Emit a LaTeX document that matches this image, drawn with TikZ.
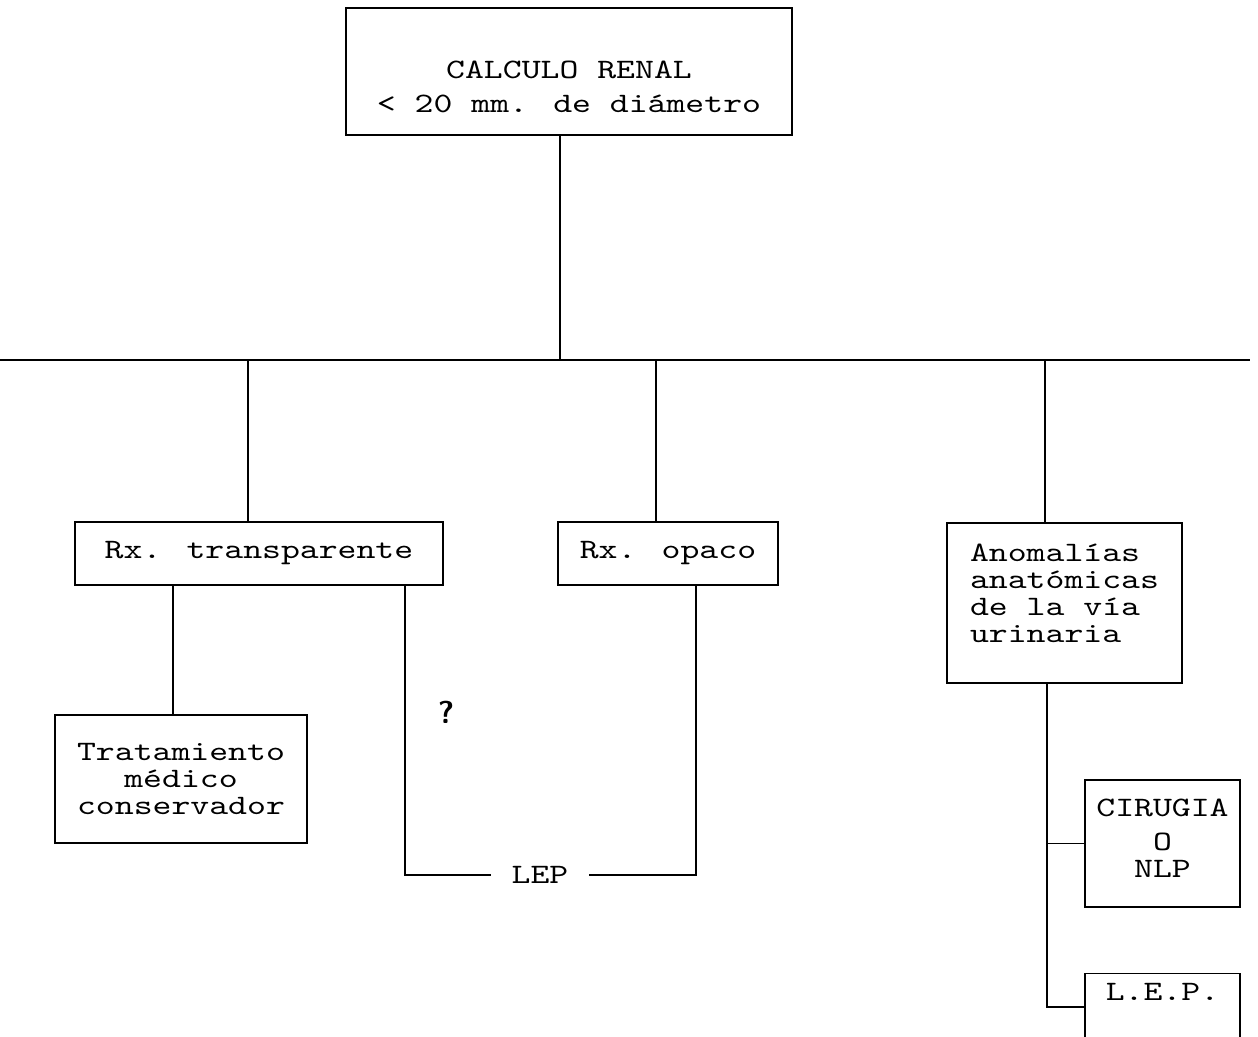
\documentclass[tikz,border=0pt]{standalone}
\usepackage{fontspec}
\newfontfamily\maquina{lmmono10-regular.otf}[FakeStretch=1.28]
\usetikzlibrary{positioning}
\newcommand{\letra}[1]{\maquina\fontsize{16}{#1}\selectfont}
\tikzset{
	caja/.style={draw,line width=0.8pt,align=center,inner sep=0pt,font=\letra{15.3}},
	linea/.style={line width=0.8pt},
}
\begin{document}
\begin{tikzpicture}[x=0.02cm,y=-0.02cm]
			\useasboundingbox (0,0) rectangle (1258,1036);
			\clip (0,0) rectangle (1258,1036);

			% cajas
			\node[caja,minimum width=8.92cm,text height=2.08cm,text depth=0.46cm,font=\letra{19.3}] (calculo) at (569,71.5) {CALCULO RENAL\\< 20 mm. de diámetro};
			\node[caja,minimum width=7.36cm,minimum height=1.26cm] (rxt) at (259,553.5) {Rx. transparente};
			\node[caja,minimum width=4.4cm,minimum height=1.26cm] (rxo) at (668,553.5) {Rx. opaco};
			\node[caja,minimum width=4.7cm,text height=2.38cm,text depth=0.82cm,align=left] (anom) at (1064.5,603) {Anomalías\\anatómicas\\de la vía\\urinaria};
			\node[caja,minimum width=5.04cm,minimum height=2.56cm] (trat) at (181,779) {Tratamiento\\médico\\conservador};
			\node[caja,minimum width=3.1cm,text height=1.94cm,text depth=0.6cm] (cir) at (1162.5,843.5) {CIRUGIA\\[4pt]O\\NLP};
			\node[caja,anchor=north,minimum width=3.1cm,text height=0.54cm,text depth=1.8cm] (lep2) at (1162.5,973) {L.E.P.};

			\node[font=\letra{16},inner xsep=0.4cm] (lep) at (540,875) {LEP};
			\node[font=\sffamily\bfseries\fontsize{18}{18}\selectfont] (preg) at (446,712) {?};

			% puntos de union
			\coordinate (busL) at (0,360);
			\coordinate (busR) at (1250,360);
			\coordinate (t0) at (560,360);
			\coordinate (d1) at (248,360);
			\coordinate (d2) at (656,360);
			\coordinate (d3) at (1045,360);
			\coordinate (a1) at (173,715);
			\coordinate (q1) at (405,875);
			\coordinate (q2) at (696,875);
			\coordinate (b1) at (1047,1007);

			% lineas
			\draw[linea] (busL) -- (busR);
			\draw[linea] (t0) -- (t0 |- calculo.south);
			\draw[linea] (d1) -- (d1 |- rxt.north);
			\draw[linea] (d2) -- (d2 |- rxo.north);
			\draw[linea] (d3) -- (d3 |- anom.north);
			\draw[linea] (a1 |- rxt.south) -- (a1 |- trat.north);
			\draw[linea] (q1 |- rxt.south) -- (q1) -- (lep.west);
			\draw[linea] (q2 |- rxo.south) -- (q2) -- (lep.east);
			\draw[linea] (b1 |- anom.south) -- (b1) -- (b1 -| lep2.west);
			\draw[linea] (b1 |- cir.west) -- (cir.west);
		    \end{tikzpicture}
\end{document}
